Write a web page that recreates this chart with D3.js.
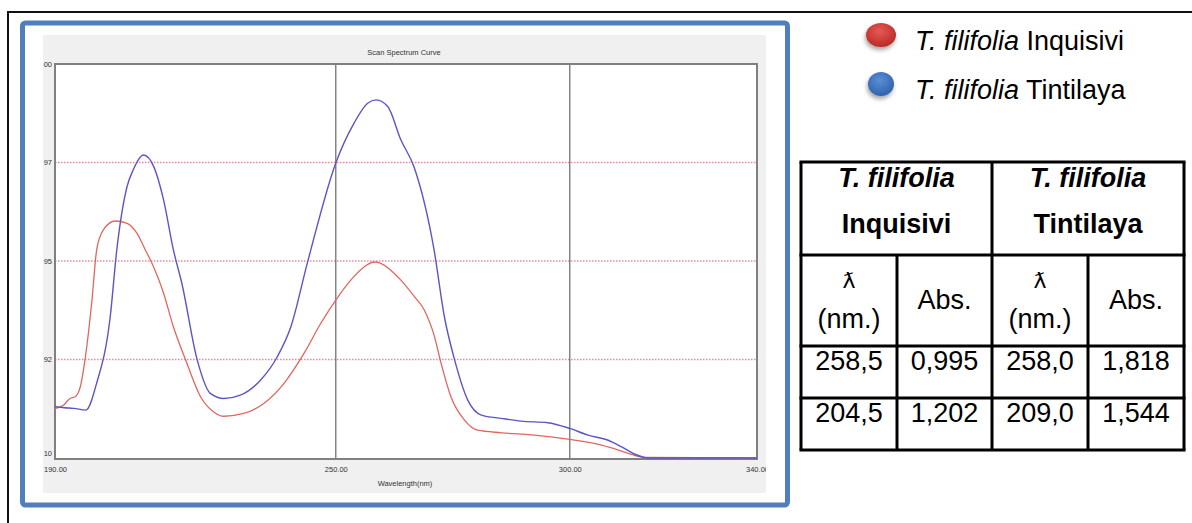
<!DOCTYPE html>
<html>
<head>
<meta charset="utf-8">
<script src="https://cdn.jsdelivr.net/npm/d3@7"></script>
<style>
  html, body { margin: 0; padding: 0; background: #fff; }
  svg { display: block; }
  .lbl { font-family: "Liberation Sans Narrow", "Liberation Sans", Arial, sans-serif; font-size: 7.5px; fill: #333; }
  .big { font-family: "Liberation Sans", Arial, sans-serif; font-size: 27px; fill: #000; }
</style>
</head>
<body>
<svg id="chart" width="1192" height="523"></svg>
<script>
// spectrum (wavelength nm, absorbance)
const wlInq  = [190,191.8,193.2,194.3,195.4,196.4,197.9,198.9,200.3,202.9,205.4,207.5,209.3,210.4,213.2,215.3,218.2,221.1,223.9,226.1,230.3,234.6,238.9,243.2,246.8,250,253.2,256.1,258.2,259.6,263.9,266.8,268.9,271.1,272.5,274.6,277.5,280.3,285.4,292.5,300,306.8,310.4,313.2,316.1,340];
const absInq = [0.251,0.268,0.302,0.311,0.361,0.497,0.802,1.056,1.157,1.203,1.191,1.141,1.056,1.005,0.836,0.666,0.480,0.311,0.234,0.212,0.226,0.277,0.378,0.531,0.684,0.802,0.903,0.971,0.995,0.988,0.903,0.819,0.751,0.615,0.480,0.311,0.192,0.141,0.128,0.116,0.094,0.065,0.040,0.018,0.003,0.0];

const wlTin  = [190,192,194,196.6,198.9,201.8,203.2,205.4,206.7,208.9,211.1,213.2,215.3,217.1,220.4,223.2,226.1,229.6,233.9,237.5,240.4,243.9,250,253.9,256.8,258.6,261.1,263.9,266.7,271.0,273.2,275.4,278.2,281.1,285.4,289.6,295.3,300,303.9,308.2,311.1,313.9,316.8,340];
const absTin = [0.260,0.255,0.252,0.243,0.380,0.717,1.056,1.378,1.462,1.538,1.479,1.310,1.056,0.887,0.497,0.328,0.302,0.319,0.395,0.514,0.666,0.988,1.498,1.700,1.801,1.818,1.784,1.615,1.478,1.056,0.717,0.497,0.294,0.218,0.201,0.187,0.179,0.150,0.116,0.090,0.056,0.019,0.0,0.0];

const xTicks = [190, 250, 300, 340];
const xTickLabels = ["190.00", "250.00", "300.00", "340.00"];
const yTicks = [0, 0.5, 1.0, 1.5, 2.0];
const yTickLabels = ["10", "92", "95", "97", "00"];

const legendNames = ["Inquisivi", "Tintilaya"];
const tableSub = ["ƛ|(nm.)", "Abs.", "ƛ|(nm.)", "Abs."];
const tableRows = [
    ["258,5", "0,995", "258,0", "1,818"],
    ["204,5", "1,202", "209,0", "1,544"]
];

const RED = "#e2665f", BLUE = "#5a56c8";

const svg = d3.select("#chart");

// defs: gradients for the legend balls, clip for panel
const defs = svg.append("defs");
[["gRed", "#e85a55", "#b82a26"], ["gBlue", "#5a8fd6", "#2f63ad"]].forEach(([id, c1, c2]) => {
    let g = defs.append("radialGradient").attr("id", id).attr("cx", "45%").attr("cy", "35%").attr("r", "65%");
    g.append("stop").attr("offset", "0%").attr("stop-color", c1);
    g.append("stop").attr("offset", "100%").attr("stop-color", c2);
});
defs.append("filter").attr("id", "shadow").attr("x", "-50%").attr("y", "-50%").attr("width", "200%").attr("height", "200%")
    .append("feDropShadow").attr("dx", -1).attr("dy", 3).attr("stdDeviation", 2).attr("flood-color", "#000").attr("flood-opacity", 0.35);
defs.append("clipPath").attr("id", "panelClip")
    .append("rect").attr("x", 43).attr("y", 35).attr("width", 723).attr("height", 458);

// outer page lines
svg.append("line").attr("x1", 7).attr("x2", 1192).attr("y1", 12).attr("y2", 12).attr("stroke", "#111").attr("stroke-width", 2);
svg.append("line").attr("x1", 8).attr("x2", 8).attr("y1", 12).attr("y2", 523).attr("stroke", "#111").attr("stroke-width", 2);

// blue frame + grey panel
svg.append("rect").attr("x", 22.5).attr("y", 23).attr("width", 765).attr("height", 482).attr("rx", 3)
    .attr("fill", "#fff").attr("stroke", "#4f7fbd").attr("stroke-width", 5);
svg.append("rect").attr("x", 43).attr("y", 35).attr("width", 723).attr("height", 458).attr("fill", "#f0f0f0");

const margin = {left: 55, top: 64, right: 757, bottom: 459};
const x = d3.scaleLinear().domain([190, 340]).range([margin.left, margin.right]);
const y = d3.scaleLinear().domain([0, 2]).range([458, margin.top]);

const panel = svg.append("g").attr("clip-path", "url(#panelClip)");

panel.append("rect").attr("x", margin.left).attr("y", margin.top)
    .attr("width", margin.right - margin.left).attr("height", margin.bottom - margin.top).attr("fill", "#fff");

panel.append("text").attr("class", "lbl").attr("x", 404).attr("y", 55).attr("text-anchor", "middle").text("Scan Spectrum Curve");

// grid
panel.selectAll(".hgrid").data(yTicks.slice(1, 4)).enter().append("line")
    .attr("x1", margin.left).attr("x2", margin.right)
    .attr("y1", d => y(d)).attr("y2", d => y(d))
    .attr("stroke", "#e98a9a").attr("stroke-width", 1.4).attr("stroke-dasharray", "1.5,1.5");
panel.selectAll(".vgrid").data(xTicks.slice(1, 3)).enter().append("line")
    .attr("x1", d => x(d)).attr("x2", d => x(d))
    .attr("y1", margin.top).attr("y2", margin.bottom)
    .attr("stroke", "#666").attr("stroke-width", 1.2);

// frame
panel.append("rect").attr("x", margin.left).attr("y", margin.top)
    .attr("width", margin.right - margin.left).attr("height", margin.bottom - margin.top)
    .attr("fill", "none").attr("stroke", "#808080").attr("stroke-width", 2);

// axes
const xAxis = panel.append("g").attr("transform", "translate(0," + 464 + ")")
    .call(d3.axisBottom(x).tickValues(xTicks).tickSize(0).tickFormat((d, i) => xTickLabels[i]));
const yAxis = panel.append("g").attr("transform", "translate(" + 52 + ",0)")
    .call(d3.axisLeft(y).tickValues(yTicks).tickSize(0).tickFormat((d, i) => yTickLabels[i]));
[xAxis, yAxis].forEach(a => {
    a.select(".domain").remove();
    a.selectAll("text").attr("class", "lbl").attr("font-family", null).attr("font-size", null).attr("fill", null);
});
yAxis.selectAll("text").attr("dx", 0).attr("x", 0).attr("text-anchor", "end");
yAxis.selectAll(".tick").filter(d => d === 0).attr("transform", "translate(0," + (y(0) - 4) + ")");

panel.append("text").attr("class", "lbl").attr("x", 405).attr("y", 486).attr("text-anchor", "middle").text("Wavelength(nm)");

// curves
const line = d3.line().x(d => x(d[0])).y(d => y(d[1])).curve(d3.curveMonotoneX);
panel.append("path").datum(d3.zip(wlInq, absInq)).attr("d", line)
    .attr("fill", "none").attr("stroke", RED).attr("stroke-width", 1.3);
panel.append("path").datum(d3.zip(wlTin, absTin)).attr("d", line)
    .attr("fill", "none").attr("stroke", BLUE).attr("stroke-width", 1.4);

// legend
const leg = svg.append("g");
legendNames.forEach((name, i) => {
    let cy = 35 + i * 49;
    leg.append("ellipse").attr("cx", 881).attr("cy", cy).attr("rx", i ? 13 : 15).attr("ry", 12)
        .attr("fill", i ? "url(#gBlue)" : "url(#gRed)").attr("filter", "url(#shadow)");
    let t = leg.append("text").attr("class", "big").attr("x", 915).attr("y", cy + 15);
    t.append("tspan").attr("font-style", "italic").text("T. filifolia");
    t.append("tspan").text(" " + name);
});

// table
const colX = [801, 897, 992, 1088, 1184];
const rowY = [162, 255, 346, 398, 450];
const tbl = svg.append("g");

legendNames.forEach((name, i) => {
    let cx = (colX[i * 2] + colX[i * 2 + 2]) / 2;
    tbl.append("text").attr("class", "big").attr("x", cx).attr("y", 187).attr("text-anchor", "middle")
        .attr("font-weight", "bold").attr("font-style", "italic").text("T. filifolia");
    tbl.append("text").attr("class", "big").attr("x", cx).attr("y", 233).attr("text-anchor", "middle")
        .attr("font-weight", "bold").text(name);
});

tableSub.forEach((s, i) => {
    let cx = (colX[i] + colX[i + 1]) / 2;
    let parts = s.split("|");
    if (parts.length === 2) {
        tbl.append("text").attr("class", "big").attr("x", cx).attr("y", 288).attr("text-anchor", "middle")
            .style("font-family", "'DejaVu Sans', sans-serif").style("font-size", "22px").text(parts[0]);
        tbl.append("text").attr("class", "big").attr("x", cx).attr("y", 328).attr("text-anchor", "middle").text(parts[1]);
    } else {
        tbl.append("text").attr("class", "big").attr("x", cx).attr("y", 309).attr("text-anchor", "middle").text(s);
    }
});

tableRows.forEach((row, r) => {
    row.forEach((v, i) => {
        tbl.append("text").attr("class", "big").attr("x", (colX[i] + colX[i + 1]) / 2).attr("y", rowY[r + 2] + 24)
            .attr("text-anchor", "middle").text(v);
    });
});

// table lines
const tl = (x1, y1, x2, y2) => tbl.append("line").attr("x1", x1).attr("y1", y1).attr("x2", x2).attr("y2", y2)
    .attr("stroke", "#000").attr("stroke-width", 3);
rowY.forEach(ry => tl(colX[0] - 1.5, ry, colX[4] + 1.5, ry));
[0, 2, 4].forEach(c => tl(colX[c], rowY[0], colX[c], rowY[4]));
[1, 3].forEach(c => tl(colX[c], rowY[1], colX[c], rowY[4]));
</script>
</body>
</html>
